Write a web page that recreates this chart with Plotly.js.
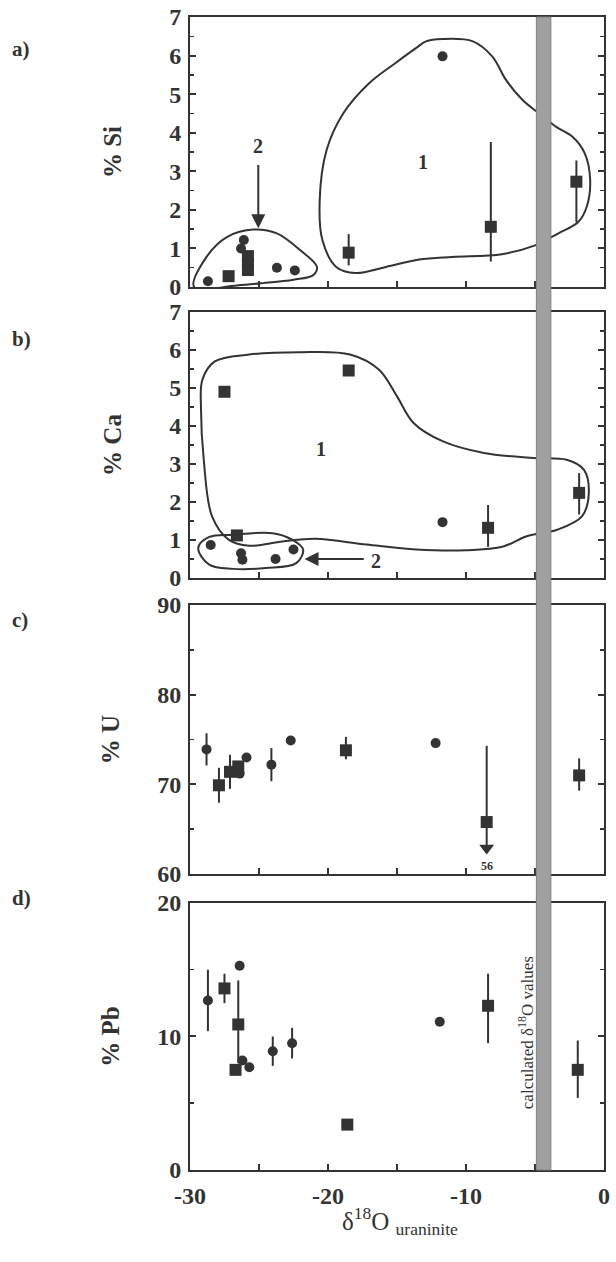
<!DOCTYPE html>
<html>
<head>
<meta charset="utf-8">
<script src="https://cdn.plot.ly/plotly-3.0.1.min.js"></script>
<style>html,body{margin:0;padding:0;background:#fff;}#chart{width:616px;height:1262px;}</style>
</head>
<body>
<div id="chart"></div>
<script>
// ---------- Panel a) % Si ----------
const siCircleX = [-28.7, -26.3, -26.1, -23.7, -22.4, -11.7];
const siCircleY = [0.15, 1.00, 1.22, 0.50, 0.43, 5.98];
const siSquareX = [-27.2, -25.8, -25.8, -25.8, -18.5, -8.2, -2.0];
const siSquareY = [0.28, 0.80, 0.60, 0.44, 0.89, 1.56, 2.73];
const siSquareErrPlus = [0, 0, 0, 0, 0.48, 2.2, 0.55];
const siSquareErrMinus = [0, 0, 0, 0, 0.33, 0.9, 1.05];
const siGroup1X = [-11.7, -9.5, -8.1, -7.1, -5.9, -4.7, -3.5, -2.3, -1.4, -1.0, -1.25, -1.85, -3.3, -5.0, -7.4, -11.0, -13.4, -15.8, -18.0, -19.4, -20.4, -20.6, -20.1, -18.9, -17.0, -15.1, -13.6, -12.9, -11.7];
const siGroup1Y = [6.43, 6.37, 5.98, 5.37, 4.85, 4.5, 4.16, 3.9, 3.47, 2.77, 2.08, 1.69, 1.39, 1.08, 0.85, 0.78, 0.71, 0.52, 0.36, 0.52, 1.21, 2.25, 3.55, 4.5, 5.29, 5.81, 6.2, 6.37, 6.43];
const siGroup2X = [-29.7, -28.8, -27.3, -25.4, -23.7, -22.0, -20.8, -21.1, -22.5, -24.7, -26.6, -29.7];
const siGroup2Y = [0.0, 0.78, 1.3, 1.49, 1.39, 0.95, 0.52, 0.30, 0.19, 0.10, 0.04, 0.0];

// ---------- Panel b) % Ca ----------
const caCircleX = [-28.5, -26.3, -26.2, -23.8, -22.5, -11.7];
const caCircleY = [0.87, 0.65, 0.48, 0.50, 0.75, 1.47];
const caSquareX = [-27.5, -26.6, -18.5, -8.4, -1.8];
const caSquareY = [4.90, 1.12, 5.46, 1.32, 2.24];
const caSquareErrPlus = [0, 0, 0, 0.6, 0.52];
const caSquareErrMinus = [0, 0, 0, 0.5, 0.57];
const caGroup1X = [-29.1, -28.2, -25.7, -22.1, -18.4, -16.3, -15.0, -13.8, -11.7, -8.7, -5.1, -2.7, -1.46, -1.1, -1.6, -3.4, -5.6, -7.3, -10.0, -13.6, -17.2, -20.9, -23.3, -25.7, -27.2, -28.4, -29.0, -29.2, -29.1];
const caGroup1Y = [5.22, 5.7, 5.88, 5.94, 5.88, 5.48, 4.78, 4.08, 3.6, 3.29, 3.16, 3.11, 2.85, 2.24, 1.62, 1.27, 1.1, 0.83, 0.73, 0.75, 0.88, 1.03, 0.96, 0.85, 1.01, 1.62, 3.11, 4.43, 5.22];
const caGroup2X = [-29.4, -28.6, -26.9, -24.0, -22.6, -21.8, -22.3, -24.5, -26.9, -28.6, -29.4];
const caGroup2Y = [0.79, 1.08, 1.14, 1.18, 1.01, 0.75, 0.39, 0.26, 0.24, 0.35, 0.79];

// ---------- Panel c) % U ----------
const uCircleX = [-28.8, -26.4, -25.9, -24.1, -22.7, -12.2];
const uCircleY = [73.9, 71.2, 73.0, 72.2, 74.9, 74.6];
const uCircleErr = [1.8, 0, 0, 1.85, 0, 0];
const uSquareX = [-27.9, -27.1, -26.5, -18.7, -8.5, -1.8];
const uSquareY = [69.9, 71.4, 72.0, 73.8, 65.8, 71.0];
const uSquareErrPlus = [1.95, 1.9, 0, 1.5, 8.5, 1.9];
const uSquareErrMinus = [1.95, 1.9, 0, 1.0, 2.6, 1.7];
const uLimitX = [-8.5];
const uLimitY = [62.9];
const uLimitLabel = "56";

// ---------- Panel d) % Pb ----------
const pbCircleX = [-28.7, -26.4, -26.2, -25.7, -24.0, -22.6, -11.9];
const pbCircleY = [12.7, 15.3, 8.2, 7.7, 8.9, 9.5, 11.1];
const pbCircleErr = [2.3, 0, 0, 0, 1.1, 1.15, 0];
const pbSquareX = [-27.5, -26.5, -26.7, -18.6, -8.4, -1.9];
const pbSquareY = [13.6, 10.9, 7.5, 3.4, 12.3, 7.5];
const pbSquareErrPlus = [1.1, 3.3, 0, 0, 2.4, 2.2];
const pbSquareErrMinus = [1.1, 2.9, 0, 0, 2.8, 2.1];

// x tick labels (hyphen minus as printed)
const xTickVals = [-30, -20, -10, 0];
const xTickText = ['-30', '-20', '-10', '0'];

// calculated δ18O band
const bandX = [-4.9, -3.85];

const ink = '#333333';
const serif = '"Liberation Serif", "Times New Roman", Times, serif';

function pts(x, y, sym, size, xa, ya, ep, em) {
  const t = {x: x, y: y, xaxis: xa, yaxis: ya, type: 'scatter', mode: 'markers',
    marker: {symbol: sym, size: size, color: ink}, hoverinfo: 'skip', cliponaxis: false};
  if (ep) {
    t.error_y = {type: 'data', symmetric: !em, array: ep, arrayminus: em || ep,
      thickness: 2, width: 0, color: ink};
  }
  return t;
}
function env(x, y, xa, ya) {
  return {x: x, y: y, xaxis: xa, yaxis: ya, type: 'scatter', mode: 'lines',
    line: {color: ink, width: 2, shape: 'spline', smoothing: 1}, hoverinfo: 'skip'};
}

const data = [
  env(siGroup1X, siGroup1Y, 'x', 'y'),
  env(siGroup2X, siGroup2Y, 'x', 'y'),
  pts(siSquareX, siSquareY, 'square', 12, 'x', 'y', siSquareErrPlus, siSquareErrMinus),
  pts(siCircleX, siCircleY, 'circle', 10, 'x', 'y'),

  env(caGroup1X, caGroup1Y, 'x2', 'y2'),
  env(caGroup2X, caGroup2Y, 'x2', 'y2'),
  pts(caSquareX, caSquareY, 'square', 12, 'x2', 'y2', caSquareErrPlus, caSquareErrMinus),
  pts(caCircleX, caCircleY, 'circle', 10, 'x2', 'y2'),

  pts(uSquareX, uSquareY, 'square', 12, 'x3', 'y3', uSquareErrPlus, uSquareErrMinus),
  pts(uCircleX, uCircleY, 'circle', 10, 'x3', 'y3', uCircleErr),
  pts(uLimitX, uLimitY, 'triangle-down', 13, 'x3', 'y3'),

  pts(pbSquareX, pbSquareY, 'square', 12, 'x4', 'y4', pbSquareErrPlus, pbSquareErrMinus),
  pts(pbCircleX, pbCircleY, 'circle', 10, 'x4', 'y4', pbCircleErr)
];

const xDom = [0.3084, 0.9805];
const yDoms = [[0.7726, 0.9865], [0.5420, 0.7528], [0.3074, 0.5206], [0.0729, 0.2845]];
const tickFont = {family: serif, size: 24, color: ink, weight: 'bold'};

function xAxis(anchor, labels) {
  return {domain: xDom, anchor: anchor, range: [-30, 0], showgrid: false, zeroline: false,
    showline: true, linecolor: ink, linewidth: 2, mirror: true,
    ticks: 'inside', ticklen: 6, tickwidth: 2, tickcolor: ink,
    tickmode: 'array', tickvals: xTickVals, ticktext: xTickText,
    minor: {tick0: -30, dtick: 5, ticks: 'inside', ticklen: 6, tickwidth: 2, tickcolor: ink, showgrid: false},
    showticklabels: labels, tickfont: tickFont, ticklabelstandoff: 3};
}
function yAxis(anchor, dom, range, dtick, minor, title, standoff) {
  return {domain: dom, anchor: anchor, range: range, showgrid: false, zeroline: false,
    showline: true, linecolor: ink, linewidth: 2, mirror: 'ticks',
    ticks: 'inside', ticklen: 6, tickwidth: 2, tickcolor: ink, dtick: dtick, tick0: range[0],
    minor: {dtick: minor, ticks: 'inside', ticklen: 4, tickwidth: 1.5, tickcolor: ink, showgrid: false},
    tickfont: tickFont, ticklabelstandoff: 2,
    title: {text: title, font: {family: serif, size: 25, color: ink, weight: 'bold'}, standoff: standoff}};
}

const lx = {family: serif, size: 20, color: ink, weight: 'bold'};
const letterFont = {family: serif, size: 21, color: ink, weight: 'bold'};
const annotations = [
  {xref: 'paper', yref: 'paper', x: 0.016, y: 1 - 35 / 1262, text: 'a)', showarrow: false, font: letterFont, xanchor: 'left'},
  {xref: 'paper', yref: 'paper', x: 0.016, y: 1 - 325 / 1262, text: 'b)', showarrow: false, font: letterFont, xanchor: 'left'},
  {xref: 'paper', yref: 'paper', x: 0.016, y: 1 - 620 / 1262, text: 'c)', showarrow: false, font: letterFont, xanchor: 'left'},
  {xref: 'paper', yref: 'paper', x: 0.016, y: 1 - 912 / 1262, text: 'd)', showarrow: false, font: letterFont, xanchor: 'left'},
  // x-axis title
  {xref: 'paper', yref: 'paper', x: 400 / 616, y: 1 - 1221 / 1262, yanchor: 'middle', showarrow: false,
   text: '\u03b4<sup>18</sup>O <sub>uraninite</sub>', font: {family: serif, size: 25, color: ink}},
  // panel a labels
  {xref: 'x', yref: 'y', x: -25.05, y: 3.65, text: '2', showarrow: false, font: lx},
  {xref: 'x', yref: 'y', x: -25.05, y: 1.52, ax: -25.05, ay: 3.2, axref: 'x', ayref: 'y', text: '', showarrow: true, arrowhead: 2, arrowsize: 1.4, arrowwidth: 2, arrowcolor: ink},
  {xref: 'x', yref: 'y', x: -13.1, y: 3.25, text: '1', showarrow: false, font: lx},
  // panel b labels
  {xref: 'x2', yref: 'y2', x: -20.5, y: 3.4, text: '1', showarrow: false, font: lx},
  {xref: 'x2', yref: 'y2', x: -16.5, y: 0.45, text: '2', showarrow: false, font: lx},
  {xref: 'x2', yref: 'y2', x: -21.7, y: 0.5, ax: -17.3, ay: 0.5, axref: 'x2', ayref: 'y2', text: '', showarrow: true, arrowhead: 2, arrowsize: 1.4, arrowwidth: 2, arrowcolor: ink},
  // panel c limit label
  {xref: 'x3', yref: 'y3', x: uLimitX[0], y: 60.9, text: uLimitLabel, showarrow: false, font: {family: serif, size: 12, color: ink, weight: 'bold'}},
  // panel d band label
  {xref: 'x4', yref: 'y4', x: -5.6, y: 10.3, text: 'calculated \u03b4<sup>18</sup>O values', textangle: -90, showarrow: false, font: {family: serif, size: 17, color: ink}}
];

const layout = {
  width: 616, height: 1262, margin: {l: 0, r: 0, t: 0, b: 0},
  paper_bgcolor: '#fff', plot_bgcolor: '#fff', showlegend: false,
  font: {family: serif, color: ink},
  xaxis: xAxis('y', false), xaxis2: xAxis('y2', false), xaxis3: xAxis('y3', false),
  xaxis4: xAxis('y4', true),
  yaxis: yAxis('x', yDoms[0], [0, 7], 1, 0.5, '% Si', 40),
  yaxis2: yAxis('x2', yDoms[1], [0, 7], 1, 0.5, '% Ca', 40),
  yaxis3: yAxis('x3', yDoms[2], [60, 90], 10, 5, '% U', 30),
  yaxis4: yAxis('x4', yDoms[3], [0, 20], 10, 5, '% Pb', 30),
  shapes: [
    {type: 'rect', xref: 'x4', yref: 'paper', x0: bandX[0], x1: bandX[1], y0: yDoms[3][0], y1: yDoms[0][1],
     fillcolor: '#a0a0a0', line: {color: '#808080', width: 1}, layer: 'above'}
  ],
  annotations: annotations
};

Plotly.newPlot('chart', data, layout, {staticPlot: true});
</script>
</body>
</html>
